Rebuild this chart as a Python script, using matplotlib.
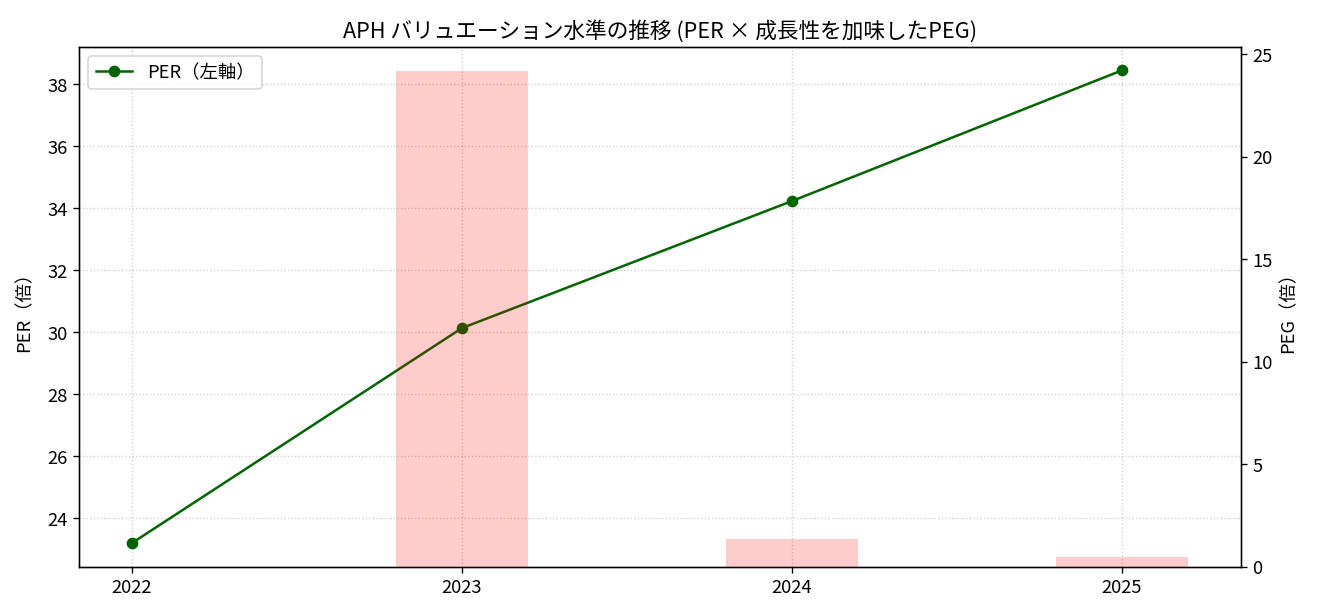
import matplotlib.pyplot as plt

plt.rcParams['font.family'] = ['Noto Sans CJK JP', 'DejaVu Sans']

years = [2022, 2023, 2024, 2025]
per = [23.19, 30.13, 34.23, 38.45]
peg_years = [2023, 2024, 2025]
peg = [24.15, 1.37, 0.49]

fig, ax1 = plt.subplots(figsize=(11, 5.14), dpi=120)
fig.subplots_adjust(left=0.06, right=0.94, top=0.923, bottom=0.08)

ax1.plot(years, per, color="darkgreen", marker="o", label="PER（左軸）")
ax1.set_ylabel("PER（倍）", fontsize=11, labelpad=8)
ax1.set_xticks(years)
ax1.set_xticklabels([str(y) for y in years])
ax1.tick_params(labelsize=11)
ax1.grid(True, ls=":", alpha=0.6)

ax2 = ax1.twinx()
ax2.bar(peg_years, peg, width=0.4, color="red", alpha=0.2, label="PEG（右軸）")
ax2.set_ylabel("PEG（倍）", fontsize=11)
ax2.tick_params(labelsize=11)

ax1.legend(loc="upper left", fontsize=11)
ax1.set_title("APH バリュエーション水準の推移 (PER × 成長性を加味したPEG)", fontsize=13)

fig.savefig("out.png")
